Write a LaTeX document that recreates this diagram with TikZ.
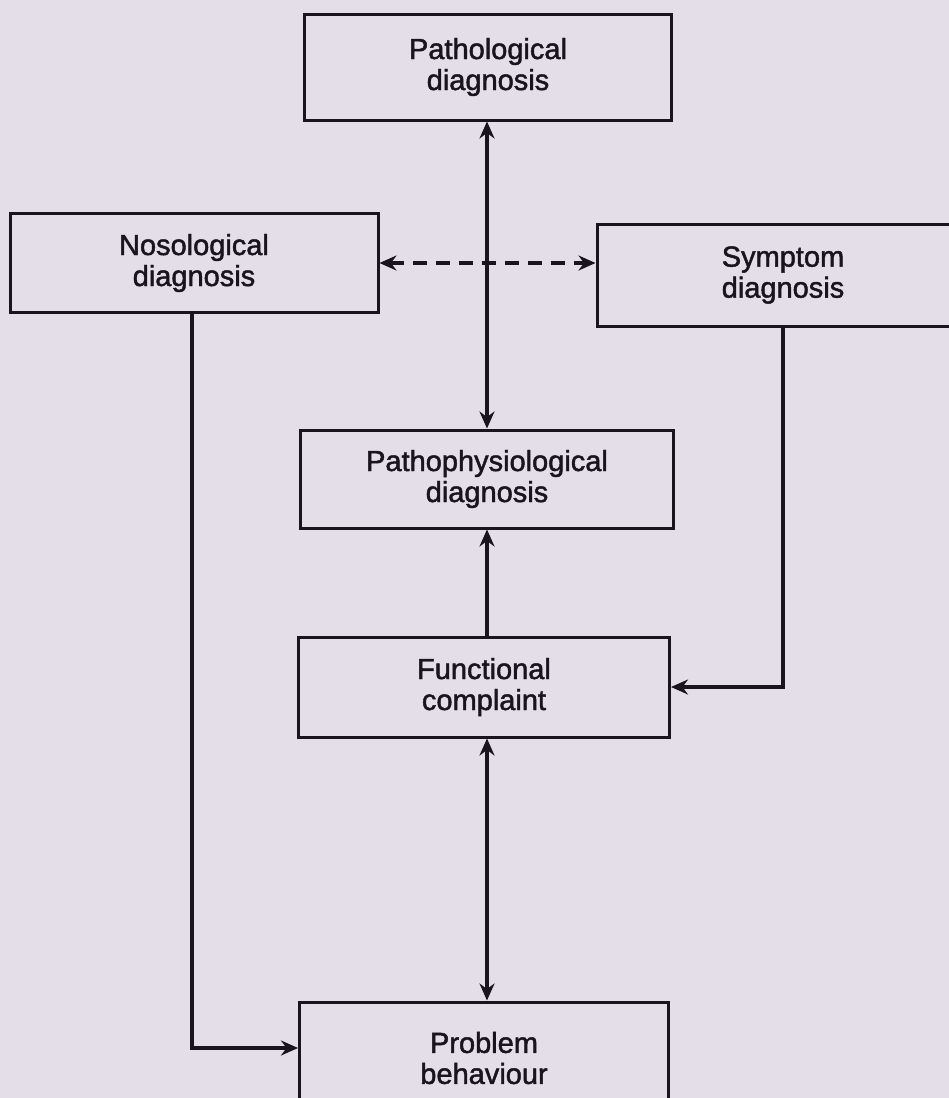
\documentclass[tikz,border=0pt]{standalone}
\usepackage{fontspec}
\setmainfont{Liberation Sans}
\newfontfamily\dfont{Liberation Sans}[FakeBold=1.6]
\usetikzlibrary{arrows.meta,calc}
\definecolor{bg}{RGB}{228,222,232}
\definecolor{ink}{RGB}{24,22,28}
\begin{document}
\begin{tikzpicture}[x=1pt,y=-1pt,
  box/.style={draw=ink,line width=3pt,align=center,inner sep=0pt,
    font=\dfont\fontsize{29}{31}\selectfont,text=ink},
  conn/.style={draw=ink,line width=3.6pt},
  tipb/.style={-{Stealth[length=17pt,width=15pt]}},
  tipbb/.style={{Stealth[length=17pt,width=15pt]}-{Stealth[length=17pt,width=15pt]}}]
\fill[bg] (0,0) rectangle (949,1098);
\useasboundingbox (0,0) rectangle (949,1098);
\clip (0,0) rectangle (949,1098);
\node[box,minimum width=367pt,minimum height=106pt] (path) at (488,67) {Pathological\\diagnosis};
\node[box,minimum width=368pt,minimum height=99pt] (noso) at (194,263) {Nosological\\diagnosis};
\node[box,minimum width=372pt,minimum height=102pt] (symp) at (783,275) {Symptom\\diagnosis};
\node[box,minimum width=373pt,minimum height=98pt] (pp) at (487,479) {Pathophysiological\\diagnosis};
\node[box,minimum width=371pt,minimum height=100pt] (func) at (484,687) {Functional\\complaint};
\node[box,minimum width=369pt,minimum height=112pt] (prob) at (484,1058) {Problem\\behaviour};
\coordinate (probin) at ($(prob.west)+(0,-10)$);
\draw[conn,tipbb] (path.south -| 487,0) -- (pp.north -| 487,0);
\draw[conn,tipbb,dash pattern=on 14pt off 9pt] (noso.east) -- (noso.east -| symp.west);
\draw[conn,tipb] (func.north -| 487,0) -- (pp.south -| 487,0);
\draw[conn,tipb] (symp.south) |- (func.east);
\draw[conn,tipbb] (func.south -| 487,0) -- (prob.north -| 487,0);
\draw[conn,tipb] (noso.south -| 192,0) |- (probin);
\end{tikzpicture}
\end{document}
